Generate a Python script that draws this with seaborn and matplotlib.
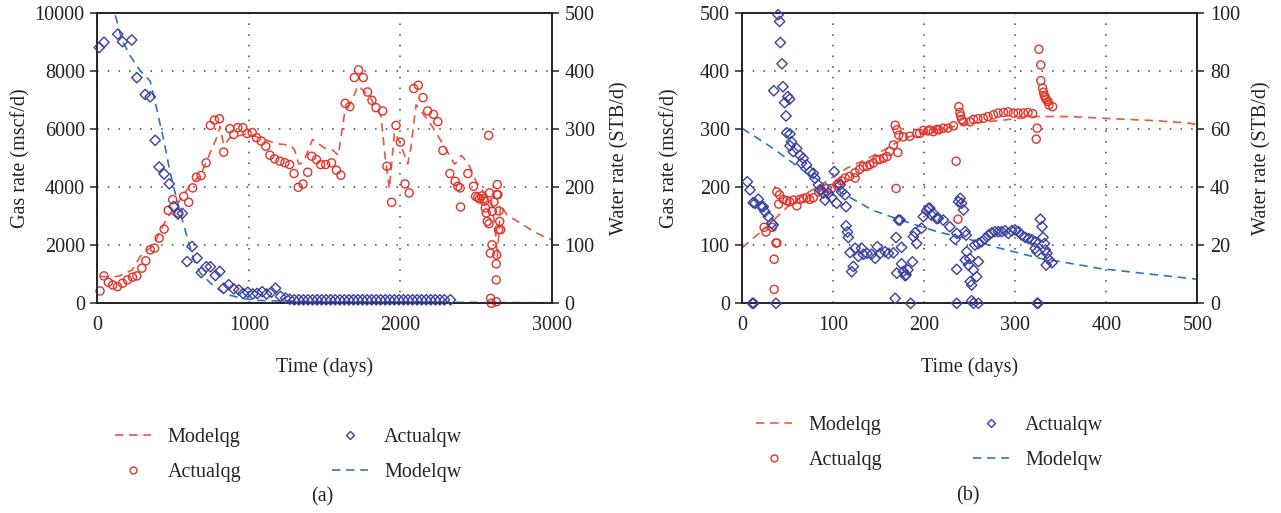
import matplotlib
matplotlib.use("Agg")
import matplotlib.pyplot as plt
from matplotlib.lines import Line2D
import seaborn as sns

# ---------------- Well (a): gas / water history, 0-3000 days ----------------
a_qg_days = [18, 44, 73, 102, 133, 166, 199, 232, 261, 294, 320, 349, 378, 408, 441,
             468, 497, 537, 570, 603, 629, 654, 685, 718, 746, 773, 806, 834, 874, 900,
             927, 960, 989, 1022, 1051, 1082, 1111, 1139, 1170, 1205, 1238, 1269, 1298,
             1326, 1357, 1388, 1415, 1446, 1474, 1507, 1545, 1578, 1607, 1635, 1666,
             1696, 1724, 1755, 1783, 1812, 1839, 1883, 1911, 1942, 1971, 2000, 2030,
             2058, 2088, 2118, 2149, 2180, 2218, 2247, 2280, 2326, 2361, 2379, 2394,
             2397, 2445, 2482, 2496, 2510, 2522, 2535, 2549, 2555, 2560, 2566, 2573,
             2582, 2584, 2588, 2593, 2595, 2600, 2604, 2606, 2617, 2632, 2632, 2633,
             2635, 2636, 2639, 2643, 2648, 2650, 2655, 2661]
a_qg_vals = [426, 945, 726, 633, 575, 692, 806, 900, 945, 1211, 1464, 1844, 1903, 2249,
             2560, 3204, 3574, 3114, 3688, 3481, 3979, 4346, 4404, 4844, 6134, 6318, 6364,
             5211, 6020, 5823, 6055, 6055, 5854, 5888, 5709, 5592, 5418, 5107, 4982, 4900,
             4844, 4785, 4474, 4000, 4113, 4519, 5072, 4957, 4785, 4785, 4844, 4588, 4415,
             6896, 6781, 7785, 8048, 7785, 7287, 7000, 6747, 6632, 4726, 3481, 6134, 5557,
             4117, 3806, 7404, 7519, 7093, 6632, 6515, 6263, 5270, 4474, 4207, 4034, 3979,
             3322, 4474, 4035, 3688, 3650, 3596, 3700, 3607, 3527, 3287, 3114, 2823, 5789,
             2745, 3806, 1730, 172, 0, 2017, 3171, 3492, 1360, 806, 55, 1671, 3750, 4093,
             3745, 2536, 3183, 2823, 2536]

a_model_qg_days = [20, 100, 150, 230, 283, 371, 459, 537, 614, 680, 724, 757, 790, 810,
                   834, 874, 990, 1100, 1190, 1275, 1300, 1330, 1360, 1420, 1500, 1550,
                   1590, 1630, 1680, 1720, 1795, 1872, 1900, 1927, 1961, 2000, 2048, 2070,
                   2103, 2192, 2291, 2357, 2380, 2401, 2445, 2500, 2555, 2600, 2625, 2640,
                   2660, 2702, 2790, 2878, 2966, 3000]
a_model_qg_vals = [930, 900, 950, 1150, 1612, 2018, 2925, 3500, 4080, 4425, 4933, 5337,
                   5738, 6100, 5450, 5700, 5850, 5650, 5500, 5450, 5300, 4800, 4850, 5650,
                   5350, 5300, 5100, 6500, 7000, 7500, 7150, 6450, 5000, 3950, 5900, 5500,
                   4800, 5400, 6850, 6250, 5400, 4800, 4900, 5100, 4850, 4200, 3800, 3550,
                   2600, 1600, 3400, 3055, 2768, 2480, 2250, 2200]

a_qw_days = [13, 44, 135, 166, 227, 261, 316, 349, 382, 408, 441, 475, 503, 532, 561,
             592, 625, 658, 686, 719, 746, 779, 808, 834, 867, 900, 934, 962, 993, 1026,
             1055, 1088, 1117, 1148, 1176, 1209, 1242, 1270, 1300, 1330, 1360, 1390, 1420,
             1450, 1480, 1510, 1540, 1570, 1600, 1630, 1660, 1690, 1720, 1750, 1780, 1810,
             1840, 1870, 1900, 1930, 1960, 1990, 2020, 2050, 2080, 2110, 2140, 2170, 2200,
             2230, 2260, 2290, 2330]
a_qw_vals = [441, 450, 464, 451, 454, 389, 360, 356, 281, 235, 223, 206, 167, 154, 155,
             72, 98, 78, 53, 63, 63, 48, 55, 26, 32, 25, 23, 17, 19, 16, 17, 20, 16, 19, 26,
             12, 9, 7, 6, 6, 6, 6, 6, 6, 6, 6, 6, 6, 6, 6, 6, 6, 6, 6, 6, 6, 6, 6, 6, 6, 6,
             6, 6, 6, 6, 6, 6, 6, 6, 6, 6, 6, 6]

a_model_qw_days = [95, 161, 216, 283, 349, 393, 437, 481, 514, 547, 592, 636, 680, 746,
                   834, 945, 1055, 1187, 1500, 2000, 2500, 3000]
a_model_qw_vals = [520, 455, 427, 401, 383, 334, 283, 225, 190, 156, 115, 75, 52, 35, 17,
                   9, 5, 4, 3, 2, 1.5, 1]

# ---------------- Well (b): gas / water history, 0-500 days ----------------
b_qg_days = [24, 26, 33, 35, 35, 37, 38, 38, 40, 41, 45, 49, 52, 56, 60, 63, 67, 71, 74,
             78, 84, 87, 93, 98, 104, 106, 109, 113, 118, 124, 124, 129, 133, 137, 140,
             144, 148, 151, 155, 159, 162, 166, 168, 170, 172, 171, 169, 177, 184, 192,
             195, 199, 204, 206, 210, 214, 216, 221, 226, 232, 235, 237, 238, 239, 240,
             241, 243, 250, 254, 259, 265, 270, 276, 281, 287, 292, 298, 303, 309, 314,
             319, 323, 324, 326, 328, 328, 330, 331, 332, 333, 334, 336, 337, 341]
b_qg_vals = [131, 123, 131, 24, 76, 104, 104, 192, 171, 187, 179, 177, 175, 178, 168, 179,
             181, 182, 179, 182, 192, 195, 198, 198, 204, 207, 211, 216, 219, 216, 225,
             231, 236, 236, 239, 242, 248, 248, 250, 253, 262, 273, 307, 299, 290, 260,
             198, 287, 288, 293, 293, 298, 297, 299, 296, 300, 299, 302, 302, 306, 245,
             145, 339, 329, 323, 317, 313, 313, 317, 318, 319, 322, 325, 328, 329, 330,
             328, 328, 328, 329, 327, 283, 302, 438, 411, 384, 371, 364, 358, 355, 351,
             348, 342, 339]

b_model_qg_days = [0, 29, 52, 71, 93, 115, 137, 159, 177, 200, 250, 300, 324, 360, 397,
                   452, 489, 500]
b_model_qg_vals = [96, 135, 170, 190, 211, 233, 249, 267, 284, 295, 310, 318, 322, 322,
                   319, 315, 311, 308]

b_qw_days = [5.5, 8.5, 11, 12, 12.5, 14, 17.6, 21, 23, 25, 28.6, 32.3, 34, 34.6, 37, 39.3,
             41, 41.8, 43.6, 44.7, 46.5, 48, 48.8, 50, 52, 52.4, 52.4, 54, 56, 59.7, 63.4,
             65, 67, 70.7, 74.4, 78, 79.9, 83.6, 85.4, 89, 90.9, 94.6, 98, 101, 103.7,
             107.4, 109, 112.9, 114, 114, 115.5, 116.5, 118.4, 120.2, 122, 124, 127.6, 131,
             133, 137, 142, 146, 148.4, 151.4, 157, 160.5, 166, 168, 169, 169.7, 171.6,
             173.4, 175, 175, 177, 179, 180, 182, 185, 187, 188, 190, 191.6, 197, 198.9,
             202.6, 204.5, 206, 208, 209.9, 213.6, 215.4, 220.8, 228, 233.8, 235.6, 235.6,
             235.7, 237.6, 239.4, 241, 243, 244.9, 245, 246, 246.6, 248.6, 250, 250.5, 252,
             252, 254, 254, 255.6, 257.5, 259.4, 259.4, 259.4, 263, 266.7, 270.4, 274,
             277.7, 281.4, 285, 288.8, 292.4, 296, 299.8, 303.5, 307, 310.9, 314.6, 318.2,
             321.9, 321.9, 323.8, 324, 325, 327.5, 329.4, 330.4, 332, 333, 334, 334.8,
             336.6, 340.3]
b_qw_vals = [41.9, 39.1, 0, 34.7, 0, 34.5, 35.9, 33.3, 33.3, 31.6, 29.9, 27.6, 27, 73.3, 0,
             99.5, 97.2, 89.9, 82.6, 74.7, 69.2, 64.6, 58.8, 71.3, 70.4, 58.4, 54.3, 55.7,
             52.3, 53.4, 51, 48.3, 50, 47.7, 45.4, 44.8, 43.1, 40.8, 39.1, 38, 35.6, 38,
             36.5, 45.4, 34.5, 40.8, 38.5, 37.4, 33.3, 26.7, 24.6, 22.7, 17.5, 10.9, 12.7,
             19, 16.2, 19, 16.9, 17.2, 16.9, 15.5, 19.5, 17.2, 17.8, 17.2, 17.4, 1.7, 22.7,
             10.4, 28.7, 28.7, 19.3, 13.6, 11, 9.5, 9.8, 11.5, 0, 14.3, 23, 24.4, 20.6,
             25.9, 29.9, 31.9, 32.7, 32.8, 30.4, 31, 29.2, 29.3, 28.7, 26.4, 22.1, 11.7, 0,
             24.1, 35, 36.2, 34.5, 32.2, 24.7, 14.9, 23.5, 17.8, 13.2, 15.4, 7.5, 6.3, 0.9,
             11.5, 0, 20.1, 9.2, 14.4, 0, 20.6, 21.2, 22.3, 23.5, 24.3, 24.7, 24.7, 24.7,
             25, 24.1, 25, 25.3, 24.7, 23.5, 22.7, 22.3, 22, 21.2, 18.9, 17.8, 0, 0, 29,
             26.4, 22.7, 20.6, 18.4, 13.2, 17.2, 15.2, 14]

b_model_qw_days = [0, 34, 71, 104, 144, 174, 214, 250, 283, 327, 360, 393, 450, 500]
b_model_qw_vals = [60.3, 53.4, 44.8, 39, 32, 28.7, 24.7, 22, 19, 15.5, 13.8, 12, 10, 8.3]

# ---------------- styling ----------------
RED_PT = "#e0342b"
RED_LN = "#e8573f"
BLUE_PT = "#3b40a0"
BLUE_LN = "#2f74c0"
INK = "#222222"
FS = 14.5
DASH = (0, (5, 3.5))

sns.set_theme(style="white")
plt.rcParams["font.family"] = ["Liberation Serif", "DejaVu Serif"]
plt.rcParams["axes.edgecolor"] = INK
plt.rcParams["axes.linewidth"] = 1.2

fig = plt.figure(figsize=(12.81, 5.13), dpi=100)
W, H = 1281, 513


def px_axes(x0, x1, y0, y1):
    return fig.add_axes([x0 / W, 1 - y1 / H, (x1 - x0) / W, (y1 - y0) / H])


def style_axis(ax):
    ax.tick_params(axis="both", direction="out", length=5, width=1.1, color=INK,
                   labelsize=FS, pad=4, labelcolor=INK)
    for s in ax.spines.values():
        s.set_visible(True)
        s.set_color(INK)
        s.set_linewidth(1.2)


def draw_panel(ax, qg_d, qg_v, mqg_d, mqg_v, qw_d, qw_v, mqw_d, mqw_v,
               xlim, xticks, glim, gticks, wlim, wticks, left_lab_x, right_lab_x):
    ax2 = ax.twinx()
    sns.lineplot(x=mqg_d, y=mqg_v, ax=ax, color=RED_LN, linewidth=1.2,
                 linestyle=DASH, zorder=2)
    sns.scatterplot(x=qg_d, y=qg_v, ax=ax, marker="o", s=34, facecolor="none",
                    edgecolor=RED_PT, linewidth=1.0, zorder=3, clip_on=False)
    sns.scatterplot(x=qw_d, y=qw_v, ax=ax2, marker="D", s=28, facecolor="none",
                    edgecolor=BLUE_PT, linewidth=1.0, zorder=3, clip_on=False)
    sns.lineplot(x=mqw_d, y=mqw_v, ax=ax2, color=BLUE_LN, linewidth=1.2,
                 linestyle=DASH, zorder=2)

    ax.set_xlim(*xlim)
    ax.set_xticks(xticks)
    ax.set_ylim(*glim)
    ax.set_yticks(gticks)
    ax2.set_ylim(*wlim)
    ax2.set_yticks(wticks)

    ax.grid(True, color="#444444", linestyle=(0, (1, 6)), linewidth=1.1)
    ax2.grid(False)
    style_axis(ax)
    style_axis(ax2)

    ax.set_xlabel("Time (days)", fontsize=FS, labelpad=16, color=INK)
    ax.set_ylabel("Gas rate (mscf/d)", fontsize=FS, color=INK)
    ax2.set_ylabel("Water rate (STB/d)", fontsize=FS, color=INK)
    ax.yaxis.set_label_coords(left_lab_x, 0.5)
    ax2.yaxis.set_label_coords(right_lab_x, 0.5)
    return ax2


def add_legend(x_left, y_top):
    handles = [
        Line2D([], [], color=RED_LN, linestyle=DASH, linewidth=1.2),
        Line2D([], [], color=RED_PT, marker="o", linestyle="none", markersize=5,
               markerfacecolor="none", markeredgewidth=1.0),
        Line2D([], [], color=BLUE_PT, marker="D", linestyle="none", markersize=4.5,
               markerfacecolor="none", markeredgewidth=1.0),
        Line2D([], [], color=BLUE_LN, linestyle=DASH, linewidth=1.2),
    ]
    labels = ["Modelqg", "Actualqg", "Actualqw", "Modelqw"]
    fig.legend(handles, labels, loc="upper left",
               bbox_to_anchor=(x_left / W, 1 - y_top / H), ncol=2, frameon=False,
               fontsize=FS, handlelength=1.8, handletextpad=0.8, columnspacing=4.5,
               labelspacing=0.8, borderpad=0, borderaxespad=0)


ax_a = px_axes(97.3, 552.0, 13.3, 303.3)
draw_panel(ax_a, a_qg_days, a_qg_vals, a_model_qg_days, a_model_qg_vals,
           a_qw_days, a_qw_vals, a_model_qw_days, a_model_qw_vals,
           (0, 3000), [0, 1000, 2000, 3000], (0, 10000), range(0, 10001, 2000),
           (0, 500), range(0, 501, 100), -0.146, 1.1276)

ax_b = px_axes(742.3, 1197.3, 13.3, 303.3)
draw_panel(ax_b, b_qg_days, b_qg_vals, b_model_qg_days, b_model_qg_vals,
           b_qw_days, b_qw_vals, b_model_qw_days, b_model_qw_vals,
           (0, 500), range(0, 501, 100), (0, 500), range(0, 501, 100),
           (0, 100), range(0, 101, 20), -0.139, 1.120)

add_legend(115, 428)
add_legend(756, 416)

fig.text(322 / W, 1 - 497 / H, "(a)", ha="center", va="center", fontsize=FS, color=INK)
fig.text(968 / W, 1 - 496 / H, "(b)", ha="center", va="center", fontsize=FS, color=INK)

fig.savefig("out.png", dpi=100)
